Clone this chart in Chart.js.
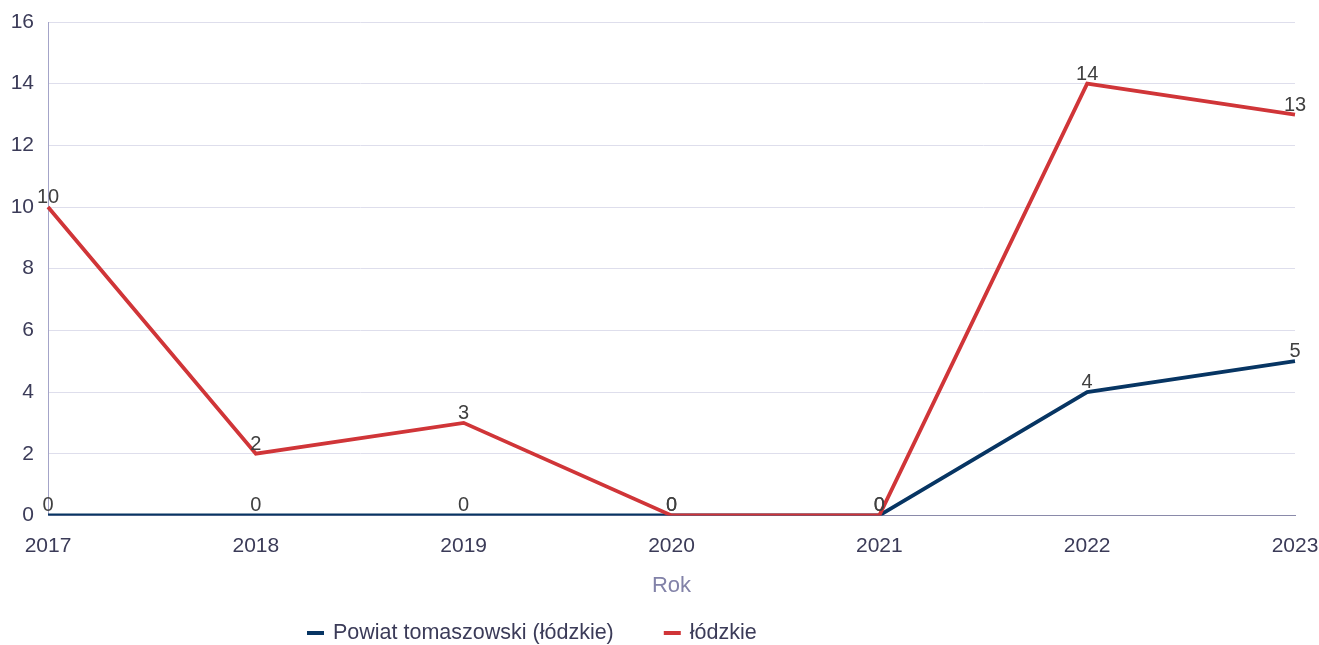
<!DOCTYPE html>
<html>
<head>
<meta charset="utf-8">
<script src="https://cdn.jsdelivr.net/npm/chart.js@4.4.1/dist/chart.umd.min.js"></script>
<style>
  html, body { margin: 0; padding: 0; background: #fff; }
  #wrap { width: 1319px; height: 645px; }
</style>
</head>
<body>
<div id="wrap"><canvas id="chart"></canvas></div>
<script>
const years = ['2017', '2018', '2019', '2020', '2021', '2022', '2023'];
const powiatValues = [0, 0, 0, 0, 0, 4, 5];
const lodzkieValues = [10, 2, 3, 0, 0, 14, 13];
const seriesNames = ['Powiat tomaszowski (łódzkie)', 'łódzkie'];
const seriesColors = ['#073563', '#d03538'];
const axisTitle = 'Rok';

const FONT = '"Liberation Sans", Arial, sans-serif';

// draws the value above every point
const valueLabels = {
  id: 'valueLabels',
  afterDatasetsDraw(chart) {
    const ctx = chart.ctx;
    ctx.save();
    ctx.font = '20px ' + FONT;
    ctx.fillStyle = '#404040';
    ctx.textAlign = 'center';
    ctx.textBaseline = 'alphabetic';
    chart.data.datasets.forEach((ds, i) => {
      const meta = chart.getDatasetMeta(i);
      meta.data.forEach((pt, j) => {
        ctx.fillText(ds.data[j], pt.x, pt.y - 4);
      });
    });
    ctx.restore();
  }
};

// legend drawn by hand so the spacing can follow the reference
const bottomLegend = {
  id: 'bottomLegend',
  afterDraw(chart) {
    const ctx = chart.ctx;
    ctx.save();
    ctx.font = '21.5px ' + FONT;
    ctx.textBaseline = 'middle';
    ctx.textAlign = 'left';
    let x = 307;
    const y = 633;
    chart.data.datasets.forEach((ds) => {
      ctx.fillStyle = ds.borderColor;
      ctx.fillRect(x, y - 2, 17, 4);
      ctx.fillStyle = '#3b3b58';
      ctx.fillText(ds.label, x + 26, y);
      x += 26 + ctx.measureText(ds.label).width + 50;
    });
    ctx.restore();
  }
};

const ctx = document.getElementById('chart').getContext('2d');
new Chart(ctx, {
  type: 'line',
  data: {
    labels: years,
    datasets: [
      {
        label: seriesNames[0],
        data: powiatValues,
        borderColor: seriesColors[0],
        backgroundColor: seriesColors[0],
        borderWidth: 3.8,
        pointRadius: 0,
        tension: 0,
        order: 1
      },
      {
        label: seriesNames[1],
        data: lodzkieValues,
        borderColor: seriesColors[1],
        backgroundColor: seriesColors[1],
        borderWidth: 3.8,
        pointRadius: 0,
        tension: 0,
        order: 0
      }
    ]
  },
  options: {
    responsive: true,
    maintainAspectRatio: false,
    animation: false,
    layout: { padding: { top: 0, right: 0, left: 0, bottom: 46 } },
    scales: {
      x: {
        grid: { display: false, drawTicks: false },
        border: { color: '#8a8aaa', width: 1 },
        ticks: {
          color: '#3b3b58',
          font: { family: FONT, size: 21 },
          padding: 18,
          maxRotation: 0
        },
        title: {
          display: true,
          text: axisTitle,
          color: '#8282a8',
          font: { family: FONT, size: 22 },
          padding: { top: -4, bottom: 0 }
        },
        afterFit(scale) {
          scale.paddingLeft = 24;
          scale.paddingRight = 24;
        }
      },
      y: {
        min: 0,
        max: 16,
        ticks: {
          stepSize: 2,
          color: '#3b3b58',
          font: { family: FONT, size: 21 },
          padding: 14
        },
        grid: { color: '#dedeec', drawTicks: false },
        border: { color: '#a4a4c8', width: 1 },
        afterFit(scale) {
          scale.width = 48;
          scale.paddingTop = 22;
          scale.paddingBottom = 0;
        }
      }
    },
    plugins: {
      legend: { display: false },
      tooltip: { enabled: false }
    }
  },
  plugins: [valueLabels, bottomLegend]
});
</script>
</body>
</html>
